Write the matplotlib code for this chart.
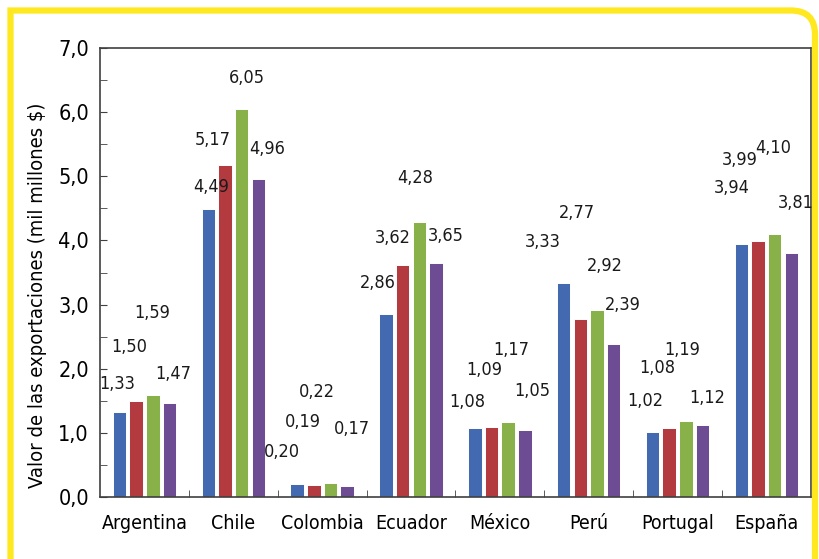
import matplotlib.pyplot as plt
import numpy as np
from matplotlib import font_manager
from matplotlib.path import Path
from matplotlib.patches import PathPatch
from matplotlib.ticker import MultipleLocator, FuncFormatter

paises = ["Argentina", "Chile", "Colombia", "Ecuador", "México", "Perú", "Portugal", "España"]

serie_1 = [1.33, 4.49, 0.20, 2.86, 1.08, 3.33, 1.02, 3.94]
serie_2 = [1.50, 5.17, 0.19, 3.62, 1.09, 2.77, 1.08, 3.99]
serie_3 = [1.59, 6.05, 0.22, 4.28, 1.17, 2.92, 1.19, 4.10]
serie_4 = [1.47, 4.96, 0.17, 3.65, 1.05, 2.39, 1.12, 3.81]

colores = ["#436ab1", "#b33a3e", "#88b14a", "#6e4c94"]

# where the value labels sit in the original (they float, not on the bar tops)
# x shift from the bar centre (category units) and y height (axis units)
lbl_dx = [
    [-0.03, 0.03, -0.17, -0.09, -0.08, -0.24, -0.08, -0.11],
    [-0.08, -0.135, -0.12, -0.11, -0.08, -0.04, -0.14, -0.21],
    [-0.01, 0.06, -0.15, -0.05, 0.04, 0.09, -0.04, -0.02],
    [0.04, 0.10, 0.05, 0.11, 0.08, 0.10, 0.05, 0.05],
]
lbl_y = [
    [1.76, 4.83, 0.70, 3.34, 1.48, 3.98, 1.50, 4.82],
    [2.34, 5.57, 1.17, 4.04, 1.98, 4.43, 2.01, 5.25],
    [2.87, 6.53, 1.64, 4.97, 2.29, 3.60, 2.29, 5.44],
    [1.92, 5.43, 1.06, 4.07, 1.65, 2.99, 1.54, 4.58],
]

# the original uses a narrow face; take a condensed one if there is any
narrow = [f for f in font_manager.fontManager.ttflist
          if (f.stretch in ("condensed", "semi-condensed", "extra-condensed")
              or "Narrow" in f.name or "Condensed" in f.name)
          and f.style == "normal" and f.weight in (400, "normal", "regular")]
if narrow:
    plt.rcParams['font.family'] = [narrow[0].name, 'DejaVu Sans']
    plt.rcParams['font.stretch'] = narrow[0].stretch
    k = 1.0
else:
    plt.rcParams['font.family'] = ['DejaVu Sans']
    k = 0.85

fig = plt.figure(figsize=(8.19, 5.59), dpi=100)
ax = fig.add_axes([0.1221, 0.1109, 0.8679, 0.8032])

x = np.arange(len(paises))
paso = 0.1875
ancho = 0.152
series = [serie_1, serie_2, serie_3, serie_4]

for i, s in enumerate(series):
    pos = x + (i - 1.5) * paso
    ax.bar(pos, s, width=ancho, color=colores[i], edgecolor="white", linewidth=0.7, zorder=2)
    for j, v in enumerate(s):
        ax.text(pos[j] + lbl_dx[i][j], lbl_y[i][j], f"{v:.2f}".replace(".", ","),
                ha="center", va="center", fontsize=13 * k, color="#1a1a1a")

ax.set_xlim(-0.5, len(paises) - 0.5)
ax.set_ylim(0, 7)

ax.set_xticks(x)
ax.set_xticklabels(paises, fontsize=14 * k)
ax.set_xticks(np.arange(0.5, len(paises) - 0.5, 1), minor=True)
ax.tick_params(axis="x", which="major", length=0, pad=12)
ax.tick_params(axis="x", which="minor", direction="in", length=5, color="#404040")

ax.yaxis.set_major_locator(MultipleLocator(1))
ax.yaxis.set_minor_locator(MultipleLocator(0.5))
ax.yaxis.set_major_formatter(FuncFormatter(lambda v, p: f"{v:.1f}".replace(".", ",")))
ax.tick_params(axis="y", which="both", direction="in", length=5, color="#404040",
               labelsize=15.5 * k, pad=8)
ax.set_ylabel("Valor de las exportaciones (mil millones $)", fontsize=14.5 * k)
ax.yaxis.set_label_coords(-0.074, 0.45)

for sp in ax.spines.values():
    sp.set_color("#404040")
    sp.set_linewidth(1.2)

# yellow frame, square top-left, rounded top-right
W, H = 819, 559
r = 24
verts = [(10.5, -10), (10.5, H - 10.5), (815 - r, H - 10.5), (815, H - 10.5), (815, H - 10.5 - r), (815, -10)]
codes = [Path.MOVETO, Path.LINETO, Path.LINETO, Path.CURVE3, Path.CURVE3, Path.LINETO]
verts = [(vx / W, vy / H) for vx, vy in verts]
fig.patches.append(PathPatch(Path(verts, codes), transform=fig.transFigure, fill=False,
                             edgecolor="#ffe81f", linewidth=4.5))

fig.savefig("out.png", dpi=100)
